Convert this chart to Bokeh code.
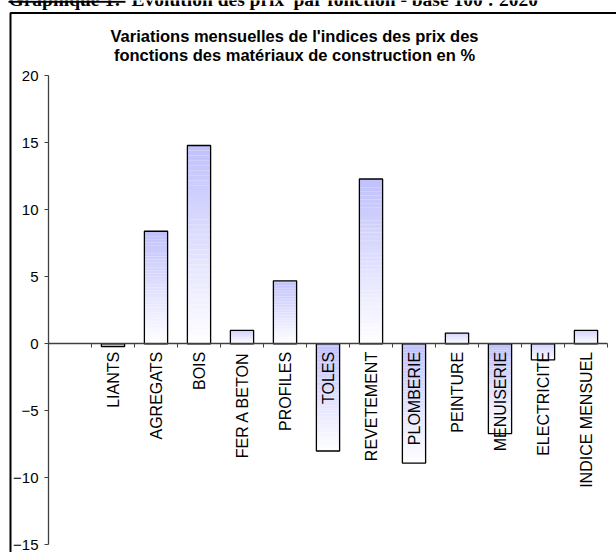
import math
from bokeh.plotting import figure
from bokeh.models import Range1d, FixedTicker, ColumnDataSource
from bokeh.core.properties import value
from bokeh.embed import file_html
from bokeh.resources import INLINE

# ---- data ----
categories = ["LIANTS", "AGREGATS", "BOIS", "FER A BETON", "PROFILES", "TOLES",
              "REVETEMENT", "PLOMBERIE", "PEINTURE", "MENUISERIE", "ELECTRICITE",
              "INDICE MENSUEL"]
values = [-0.2, 8.4, 14.8, 1.0, 4.7, -8.0, 12.3, -8.9, 0.8, -6.7, -1.2, 1.0]
y_ticks = [-15, -10, -5, 0, 5, 10, 15, 20]
title_lines = ["Variations mensuelles de l'indices des prix des",
               "fonctions des matériaux de construction en %"]
header_bold = "Graphique 1:"
header_rest = ["Evolution des prix", "par fonction - base 100 : 2020"]

# ---- layout constants (pixels) ----
FONT = "Liberation Sans"
W, H = 616, 552
PX_X = 43.0          # pixels per category slot
AXIS_LEFT = 48.0     # canvas x of the value axis
PX_Y = 13.4          # pixels per unit on the value axis
TOP_TICK_Y = 75.3    # canvas y of the highest tick
n_slots = len(categories) + 1          # leading empty slot
bar_w = 0.54

x0 = -AXIS_LEFT / PX_X
y1 = max(y_ticks) + TOP_TICK_Y / PX_Y

def cx(px):   # canvas px -> data x
    return x0 + px / PX_X

def cy(py):   # canvas py -> data y
    return y1 - py / PX_Y

p = figure(width=W, height=H, output_backend="svg", toolbar_location=None,
           x_range=Range1d(x0, x0 + W / PX_X), y_range=Range1d(y1 - H / PX_Y, y1),
           min_border=0, min_border_left=0, min_border_right=0,
           min_border_top=0, min_border_bottom=0)
p.title.visible = False
p.background_fill_color = "white"
p.border_fill_color = "white"
p.outline_line_color = None
p.grid.visible = False

# ---- page header (cut off at the top, as in the source) ----
hdr = dict(text_align="left", text_baseline="alphabetic",
           text_font=value("Liberation Serif"), text_font_size="19.5px",
           text_font_style="bold", text_color="black")
p.text(x=[cx(8)], y=[cy(-1.5)], text=[header_bold], **hdr)
p.line(x=[cx(8), cx(125)], y=[cy(1.2), cy(1.2)], line_color="black", line_width=2)
p.text(x=[cx(131), cx(293)], y=[cy(-1.5)] * 2, text=header_rest, **hdr)

# ---- chart frame border (left + top edge) ----
p.line(x=[cx(10), cx(10), cx(W + 20)], y=[cy(H + 20), cy(12.5), cy(12.5)],
       line_color="black", line_width=2)

# ---- gradient bars ----
N = 40
top_rgb = (192, 192, 252)
bot_rgb = (255, 255, 255)
L, R, T, B, C = [], [], [], [], []
for i, v in enumerate(values):
    xc = i + 1.5
    hi, lo = max(v, 0.0), min(v, 0.0)
    for k in range(N):
        s_top = hi - (hi - lo) * k / N
        s_bot = hi - (hi - lo) * (k + 1) / N
        f = (k + 0.5) / N
        col = tuple(int(round(top_rgb[j] + (bot_rgb[j] - top_rgb[j]) * f)) for j in range(3))
        L.append(xc - bar_w / 2); R.append(xc + bar_w / 2)
        T.append(s_top); B.append(s_bot)
        C.append("#%02x%02x%02x" % col)
p.quad(left=L, right=R, top=T, bottom=B, fill_color=C, line_color=None)

xs = [i + 1.5 for i in range(len(values))]
src = ColumnDataSource(dict(x=xs, v=values, z=[0] * len(values), lab=categories,
                            l=[x - bar_w / 2 for x in xs], r=[x + bar_w / 2 for x in xs]))
p.quad(left="l", right="r", top="v", bottom="z", source=src, fill_color=None,
       line_color="black", line_width=1.3)

# ---- axes ----
xa = p.xaxis[0]
xa.fixed_location = 0
xa.bounds = (0, n_slots)
xa.ticker = FixedTicker(ticks=list(range(n_slots + 1)))
xa.major_label_text_color = None
xa.axis_line_color = "#404040"
xa.axis_line_width = 1.3
xa.major_tick_line_color = "#404040"
xa.major_tick_out = 4
xa.major_tick_in = 0
xa.minor_tick_line_color = None

ya = p.yaxis[0]
ya.fixed_location = 0
ya.bounds = (min(y_ticks), max(y_ticks))
ya.ticker = FixedTicker(ticks=y_ticks)
ya.axis_line_color = "#404040"
ya.axis_line_width = 1.3
ya.major_tick_line_color = "#404040"
ya.major_tick_out = 4
ya.major_tick_in = 0
ya.minor_tick_line_color = None
ya.major_label_text_font = FONT
ya.major_label_text_font_size = "15px"
ya.major_label_text_color = "black"
ya.major_label_standoff = 6

# ---- category labels (on top of bars) ----
p.text(x="x", y="z", text="lab", source=src, angle=math.pi / 2, text_align="right",
       text_baseline="middle", y_offset=8, text_font=value(FONT),
       text_font_size="16px", text_color="black")

# ---- title (two lines) ----
p.text(x=[cx(294)] * 2, y=[cy(35.5), cy(54.5)], text=title_lines,
       text_align="center", text_baseline="alphabetic", text_font=value(FONT),
       text_font_size="16.5px", text_font_style="bold", text_color="black")

open("out.html", "w").write(file_html(p, INLINE))
